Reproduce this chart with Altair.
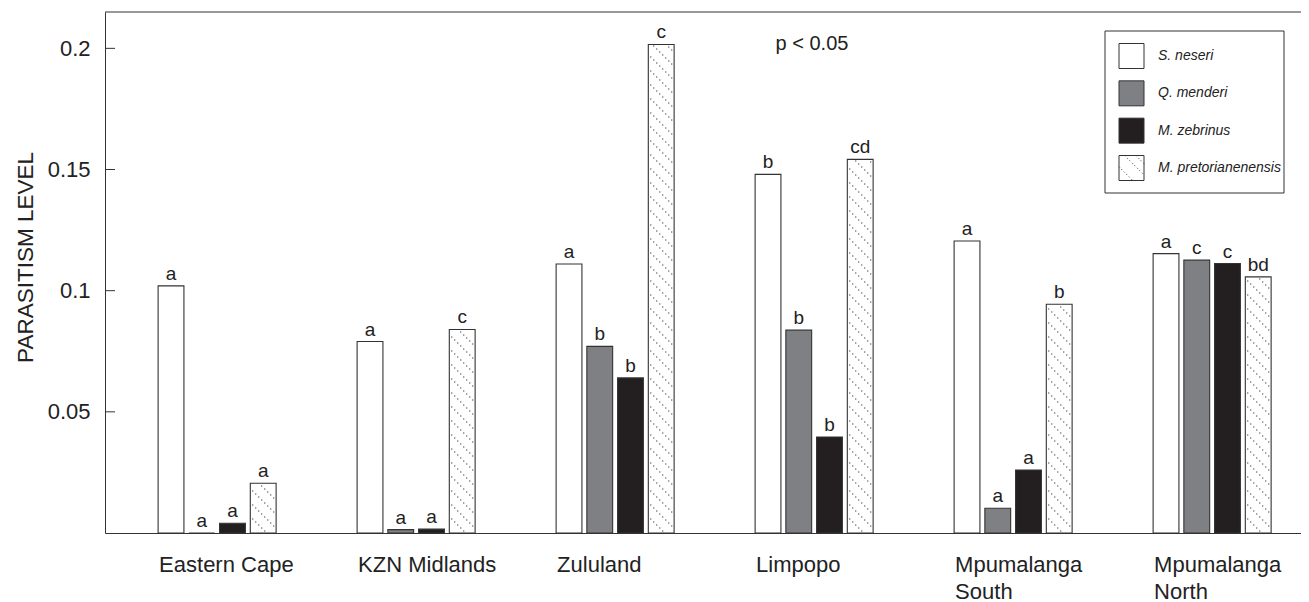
import altair as alt
import pandas as pd

# ---------------- data ----------------
regions = ["Eastern Cape", "KZN Midlands", "Zululand", "Limpopo",
           "Mpumalanga South", "Mpumalanga North"]
species = ["S. neseri", "Q. menderi", "M. zebrinus", "M. pretorianenensis"]

s_neseri = [0.102, 0.079, 0.111, 0.148, 0.1205, 0.1153]
q_menderi = [0.0, 0.0014, 0.077, 0.0837, 0.0102, 0.1126]
m_zebrinus = [0.004, 0.0016, 0.064, 0.0396, 0.026, 0.1112]
m_pretorianenensis = [0.0205, 0.084, 0.2016, 0.1542, 0.0944, 0.1057]

l_s_neseri = ["a", "a", "a", "b", "a", "a"]
l_q_menderi = ["a", "a", "b", "b", "a", "c"]
l_m_zebrinus = ["a", "a", "b", "b", "a", "c"]
l_m_pretorianenensis = ["a", "c", "c", "cd", "b", "bd"]

y_ticks = [0.05, 0.1, 0.15, 0.2]
y_title = "PARASITISM LEVEL"
p_text = "p < 0.05"

# ---------------- tables ----------------
series = [s_neseri, q_menderi, m_zebrinus, m_pretorianenensis]
letters = [l_s_neseri, l_q_menderi, l_m_zebrinus, l_m_pretorianenensis]
rows = []
for sp, vals, labs in zip(species, series, letters):
    for r, v, l in zip(regions, vals, labs):
        rows.append({"region": r, "species": sp, "value": v, "letter": l})
df = pd.DataFrame(rows)

Y_MAX = 0.215
PLOT_W = 1196
PLOT_H = 521
u = Y_MAX / PLOT_H  # data units per pixel (for the hatch pattern spacing)

# dotted diagonal hatch for M. pretorianenensis bars
NCOL = 8
dot_rows = []
for r, v in zip(regions, m_pretorianenensis):
    top_px = v / u
    for j in range(NCOL):
        for n in range(0, 60):
            ypx = 14 * n - 3 * j
            if 1.5 < ypx < top_px - 1.5:
                dot_rows.append({"region": r, "species": species[3],
                                 "col": j, "yv": ypx * u})
dots_df = pd.DataFrame(dot_rows)

# ---------------- scales / axes ----------------
FONT = "Liberation Sans"
xscale = alt.Scale(domain=regions, paddingInner=0.407, paddingOuter=0.2085, align=0.64)
xaxis = alt.Axis(title=None, ticks=False, grid=False, domainColor="#333",
                 labelFontSize=22, labelColor="#222", labelAlign="left", labelAngle=0,
                 labelOffset=-58, labelPadding=21, labelBaseline="top",
                 labelLineHeight=27, labelOverlap=False, labelLimit=300,
                 labelExpr="indexof(datum.label,'Mpumalanga')==0 ? split(datum.label,' ') : datum.label")
yscale = alt.Scale(domain=[0, Y_MAX], nice=False, zero=True)
yaxis = alt.Axis(values=y_ticks, format="~g", ticks=False, tickSize=0, grid=False,
                 domainColor="#333", labelFontSize=22, labelColor="#222",
                 labelPadding=15, title=y_title, titleFontSize=22.5,
                 titleFontWeight="normal", titleColor="#222", titlePadding=10,
                 titleY=245)
X = alt.X("region:N", scale=xscale, axis=xaxis)
XO = alt.XOffset("species:N", scale=alt.Scale(domain=species, paddingInner=0.16, paddingOuter=0))
color_scale = alt.Scale(domain=species, range=["#ffffff", "#7f8083", "#231f20", "#ffffff"])

base = alt.Chart(df)

bars = base.mark_bar(stroke="#333", strokeWidth=1.1).encode(
    x=X, xOffset=XO,
    y=alt.Y("value:Q", scale=yscale, axis=yaxis),
    color=alt.Color("species:N", scale=color_scale, legend=None),
)

layers = [bars]
for j in range(NCOL):
    off = 3 * j - 10.5
    dot_path = f"M {off - 0.6:.2f} -0.6 h 1.2 v 1.2 h -1.2 Z"
    layers.append(
        alt.Chart(dots_df).transform_filter(alt.datum.col == j)
        .mark_point(shape=dot_path, size=4, filled=True, fill="#333",
                    strokeWidth=0, opacity=1)
        .encode(x=X, xOffset=XO, y=alt.Y("yv:Q", scale=yscale, axis=yaxis))
    )

letters_layer = base.mark_text(fontSize=19, color="#222", dy=-6, baseline="alphabetic").encode(
    x=X, xOffset=XO, y=alt.Y("value:Q", scale=yscale, axis=yaxis), text="letter:N"
)
layers.append(letters_layer)

ticks_layer = alt.Chart(pd.DataFrame({"t": y_ticks})).mark_rule(color="#333", strokeWidth=1).encode(
    y=alt.Y("t:Q", scale=yscale, axis=yaxis), x=alt.value(0), x2=alt.value(10)
)
top_line = alt.Chart(pd.DataFrame({"a": [0]})).mark_rule(color="#333", strokeWidth=1).encode(
    y=alt.value(0)
)
p_layer = alt.Chart(pd.DataFrame({"t": [p_text]})).mark_text(
    fontSize=20, color="#222", align="center", baseline="middle").encode(
    x=alt.value(707), y=alt.value(32), text="t:N")
layers += [ticks_layer, top_line, p_layer]

main = alt.layer(*layers)

# ---------------- legend ----------------
leg_df = pd.DataFrame({"species": species})
YL = alt.Y("species:N", scale=alt.Scale(type="point", domain=species, range=[44, 156], padding=0), axis=None)
leg = alt.Chart(leg_df)
leg_box = alt.Chart(pd.DataFrame({"a": [0]})).mark_rect(fillOpacity=0, stroke="#333", strokeWidth=1).encode(
    x=alt.value(1000), x2=alt.value(1179), y=alt.value(19), y2=alt.value(181))
leg_sw = leg.mark_square(size=625, stroke="#333", strokeWidth=1, opacity=1).encode(
    x=alt.value(1026.5), y=YL, color=alt.Color("species:N", scale=color_scale, legend=None))
hatch_path = "M -0.55 -1 L 1 0.55 M -1 -0.1 L 0.1 1 M 0.35 -1 L 1 -0.35"
leg_hatch = leg.transform_filter(alt.datum.species == species[3]).mark_point(
    shape=hatch_path, size=625, filled=False, stroke="#333", strokeWidth=1,
    strokeDash=[1, 2.5], opacity=1).encode(x=alt.value(1026.5), y=YL)
leg_text = leg.mark_text(align="left", baseline="middle", fontStyle="italic",
                         fontSize=14, color="#222").encode(
    x=alt.value(1053), y=YL, text="species:N")
legend = alt.layer(leg_box, leg_sw, leg_hatch, leg_text)

chart = alt.layer(main, legend).resolve_scale(y="independent").properties(
    width=PLOT_W, height=PLOT_H,
    padding={"left": 97, "top": 4, "right": 0, "bottom": 80},
    autosize=alt.AutoSizeParams(type="none"),
).configure(font=FONT).configure_view(stroke=None)

chart.save("out.html", embed_options={"renderer": "svg", "actions": False})
